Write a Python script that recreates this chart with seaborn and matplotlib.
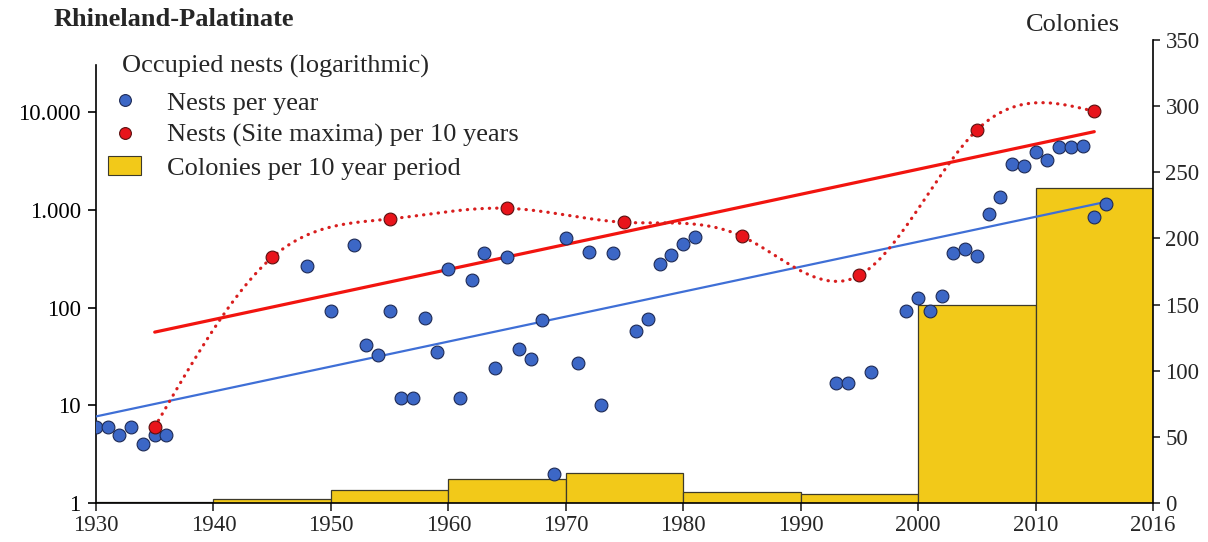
import numpy as np
import pandas as pd
import matplotlib
matplotlib.use("Agg")
import matplotlib.pyplot as plt
from matplotlib.lines import Line2D
from matplotlib.patches import Patch
from matplotlib.ticker import FixedLocator, FixedFormatter, NullLocator
import seaborn as sns

# ---------------- data ----------------
nest_years = [1930, 1931, 1932, 1933, 1934, 1935, 1936,
              1948, 1950, 1952, 1953, 1954, 1955, 1956, 1957, 1958, 1959,
              1960, 1961, 1962, 1963, 1964, 1965, 1966, 1967, 1968, 1969,
              1970, 1971, 1972, 1973, 1974, 1976, 1977, 1978, 1979, 1980, 1981,
              1993, 1994, 1996, 1999,
              2000, 2001, 2002, 2003, 2004, 2005, 2006, 2007, 2008, 2009,
              2010, 2011, 2012, 2013, 2014, 2015, 2016]
nest_counts = [6, 6, 5, 6, 4, 5, 5,
               268, 92, 436, 41, 33, 92, 12, 12, 79, 35,
               245, 12, 192, 361, 24, 331, 38, 30, 74, 2,
               514, 27, 369, 10, 358, 57, 77, 276, 344, 450, 531,
               17, 17, 22, 93,
               124, 92, 130, 361, 400, 339, 899, 1343, 2950, 2774,
               3862, 3220, 4345, 4400, 4450, 844, 1158]

max_years = [1935, 1945, 1955, 1965, 1975, 1985, 1995, 2005, 2015]
max_counts = [6, 326, 805, 1036, 744, 535, 213, 6535, 10170]

period_starts = [1930, 1940, 1950, 1960, 1970, 1980, 1990, 2000, 2010]
colonies = [1, 3, 10, 18, 23, 8, 7, 150, 238]

x_tick_pos = [1930, 1940, 1950, 1960, 1970, 1980, 1990, 2000, 2010, 2020]
x_tick_labels = ["1930", "1940", "1950", "1960", "1970", "1980", "1990", "2000", "2010", "2016"]
log_ticks = [1, 10, 100, 1000, 10000]
log_tick_labels = ["1", "10", "100", "1.000", "10.000"]
col_ticks = [0, 50, 100, 150, 200, 250, 300, 350]

# ---------------- helpers ----------------
def natural_spline(x, y, xs):
    x = np.asarray(x, float); y = np.asarray(y, float)
    n = len(x); h = np.diff(x)
    A = np.zeros((n, n)); r = np.zeros(n)
    A[0, 0] = 1; A[-1, -1] = 1
    for i in range(1, n - 1):
        A[i, i - 1] = h[i - 1]; A[i, i] = 2 * (h[i - 1] + h[i]); A[i, i + 1] = h[i]
        r[i] = 3 * ((y[i + 1] - y[i]) / h[i] - (y[i] - y[i - 1]) / h[i - 1])
    c = np.linalg.solve(A, r)
    b = (y[1:] - y[:-1]) / h - h * (2 * c[:-1] + c[1:]) / 3
    d = (c[1:] - c[:-1]) / (3 * h)
    idx = np.clip(np.searchsorted(x, xs) - 1, 0, n - 2)
    t = xs - x[idx]
    return y[idx] + b[idx] * t + c[idx] * t ** 2 + d[idx] * t ** 3

# ---------------- style ----------------
sns.set_style("white")
plt.rcParams["font.family"] = ["Liberation Serif", "DejaVu Serif"]
FS = 19      # free texts / legend
FT = 16.5    # tick labels

fig = plt.figure(figsize=(12.08, 5.42), dpi=100)
ax_col = fig.add_axes([0.07947, 0.07196, 0.875, 0.85424])
ax_log = ax_col.twinx()

# colonies bars (right axis)
bins = period_starts + [2020]
sns.histplot(x=period_starts, weights=colonies, bins=bins, ax=ax_col,
             color="#F2C919", edgecolor="#3d3a2a", linewidth=0.9, alpha=1.0,
             element="bars", stat="count", legend=False)
ax_col.set_ylim(0, 350)
ax_col.set_xlim(1930, 2020)
ax_col.yaxis.tick_right()
ax_col.yaxis.set_label_position("right")
ax_col.set_ylabel("")
ax_col.set_xlabel("")

# nests (left, log axis)
ax_log.set_yscale("log")
ax_log.set_ylim(1, 10 ** 4.737)
ax_log.set_xlim(1930, 2020)
ax_log.yaxis.tick_left()
ax_log.yaxis.set_label_position("left")

df_nests = pd.DataFrame({"year": nest_years, "nests": nest_counts})
df_max = pd.DataFrame({"year": max_years, "nests": max_counts})

# regression lines in log space
bp = np.polyfit(df_nests["year"], np.log10(df_nests["nests"]), 1)
bx = np.array([1930, 2016])
sns.lineplot(x=bx, y=10 ** np.polyval(bp, bx), ax=ax_log, color="#3F6FD6",
             linewidth=1.6, estimator=None, zorder=3)
rp = np.polyfit(df_max["year"], np.log10(df_max["nests"]), 1)
rx = np.array([1935, 2015])
sns.lineplot(x=rx, y=10 ** np.polyval(rp, rx), ax=ax_log, color="#F2140F",
             linewidth=2.3, estimator=None, zorder=3)

# smooth dotted curve through site maxima
sx = np.linspace(1935, 2015, 400)
sy = 10 ** natural_spline(df_max["year"], np.log10(df_max["nests"]), sx)
ln = sns.lineplot(x=sx, y=sy, ax=ax_log, color="#D81E1E", linewidth=2.3,
                  estimator=None, sort=False, zorder=3)
ln.lines[-1].set_dashes((0.1, 2.2))
ln.lines[-1].set_dash_capstyle("round")

sns.scatterplot(data=df_nests, x="year", y="nests", ax=ax_log, s=85,
                color="#3C67C6", edgecolor="#1e2a55", linewidth=0.8, zorder=5)
sns.scatterplot(data=df_max, x="year", y="nests", ax=ax_log, s=85,
                color="#E8141B", edgecolor="#5a1010", linewidth=0.8, zorder=6)
ax_log.set_xlabel("")
ax_log.set_ylabel("")

# ---------------- axes / ticks ----------------
for a in (ax_col, ax_log):
    for s in a.spines.values():
        s.set_visible(False)
    a.grid(False)
    a.patch.set_alpha(0)

ax_log.spines["left"].set_visible(True)
ax_log.spines["left"].set_bounds(1, 3.0e4)
ax_col.spines["right"].set_visible(True)
ax_col.spines["bottom"].set_visible(True)
for s in (ax_log.spines["left"], ax_col.spines["right"], ax_col.spines["bottom"]):
    s.set_color("black"); s.set_linewidth(1.2)

ax_log.yaxis.set_major_locator(FixedLocator(log_ticks))
ax_log.yaxis.set_major_formatter(FixedFormatter(log_tick_labels))
ax_log.yaxis.set_minor_locator(NullLocator())
ax_log.tick_params(axis="y", which="major", left=True, right=False, direction="out",
                   length=6, width=1.2, labelsize=FT, pad=5, colors="black")
ax_log.tick_params(axis="x", bottom=False, labelbottom=False, top=False, labeltop=False)

ax_col.set_yticks(col_ticks)
ax_col.set_yticklabels([str(v) for v in col_ticks])
ax_col.tick_params(axis="y", right=True, left=False, labelright=True, labelleft=False,
                   direction="out", length=5, width=1.2, labelsize=FT, pad=4)
ax_col.set_xticks(x_tick_pos)
ax_col.set_xticklabels(x_tick_labels)
ax_col.tick_params(axis="x", bottom=True, direction="out", length=6, width=1.2,
                   labelsize=FT, pad=3)

# ---------------- texts & legend ----------------
fig.text(54 / 1208, 1 - 20 / 542, "Rhineland-Palatinate", fontsize=FS, fontweight="bold",
         ha="left", va="center")
fig.text(122 / 1208, 1 - 66 / 542, "Occupied nests (logarithmic)", fontsize=FS,
         ha="left", va="center")
fig.text(1073 / 1208, 1 - 25 / 542, "Colonies", fontsize=FS, ha="center", va="center")

handles = [
    Line2D([], [], linestyle="none", marker="o", markersize=8.5,
           markerfacecolor="#3C67C6", markeredgecolor="#1e2a55", markeredgewidth=0.8),
    Line2D([], [], linestyle="none", marker="o", markersize=8.5,
           markerfacecolor="#E8141B", markeredgecolor="#5a1010", markeredgewidth=0.8),
    Patch(facecolor="#F2C919", edgecolor="#3d3a2a", linewidth=0.8),
]
labels = ["Nests per year", "Nests (Site maxima) per 10 years", "Colonies per 10 year period"]
fig.legend(handles, labels, loc="upper left", bbox_to_anchor=(108 / 1208, 1 - 91 / 542),
           frameon=False, fontsize=FS, handlelength=1.26, handleheight=0.72,
           handletextpad=0.98, labelspacing=0.33, borderpad=0, borderaxespad=0)

fig.savefig("out.png", dpi=100)
